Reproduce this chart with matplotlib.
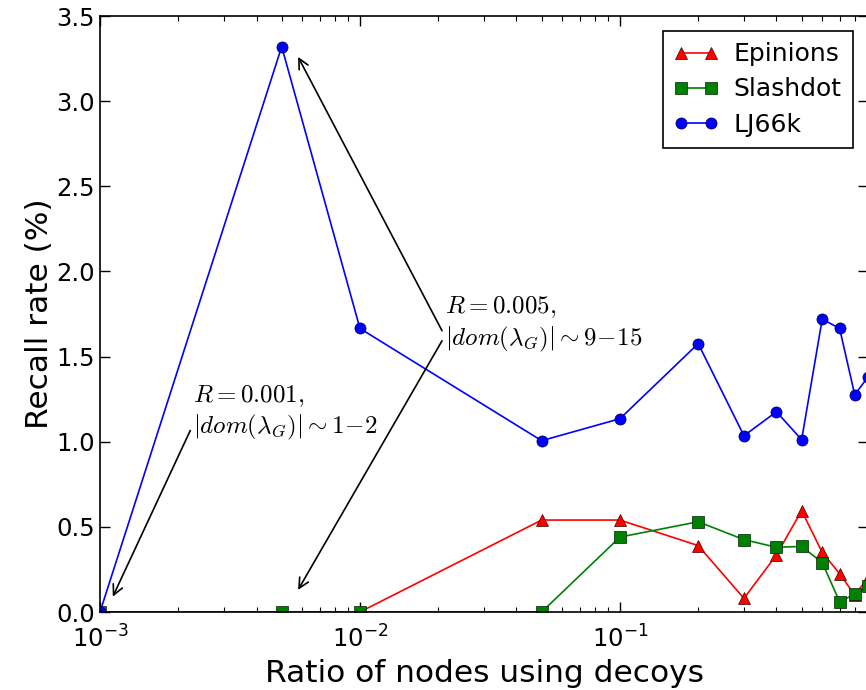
import matplotlib
matplotlib.use("Agg")
import matplotlib.pyplot as plt

ratios = [0.001, 0.005, 0.01, 0.05, 0.1, 0.2, 0.3, 0.4, 0.5, 0.6, 0.7, 0.8, 0.9]
epinions = [0.0, 0.0, 0.0, 0.54, 0.54, 0.39, 0.08, 0.335, 0.595, 0.35, 0.225, 0.10, 0.20]
slashdot = [0.0, 0.0, 0.0, 0.0, 0.44, 0.53, 0.425, 0.38, 0.385, 0.29, 0.06, 0.105, 0.15]
lj66k = [0.0, 3.32, 1.665, 1.006, 1.135, 1.576, 1.035, 1.176, 1.012, 1.72, 1.665, 1.276, 1.38]

ann1_text = "$R=0.001,$\n$|dom(\\lambda_G)|\\sim1\\!-\\!2$"
ann2_text = "$R=0.005,$\n$|dom(\\lambda_G)|\\sim9\\!-\\!15$"

fig = plt.figure(figsize=(8.66, 6.9), dpi=100)
ax = fig.add_axes([100/866, 78/690, 768/866, 596/690])

ax.plot(ratios, epinions, '-^', color='red', lw=1.2, ms=8, mec='#400000', mew=0.5, label='Epinions')
ax.plot(ratios, slashdot, '-s', color='green', lw=1.2, ms=8, mec='#002000', mew=0.5, label='Slashdot')
ax.plot(ratios, lj66k, '-o', color='blue', lw=1.2, ms=8, mec='#000040', mew=0.5, label='LJ66k')

ax.set_xscale('log')
ax.set_xlim(1e-3, 0.9)
ax.set_ylim(0, 3.5)
ax.set_yticks([0, 0.5, 1.0, 1.5, 2.0, 2.5, 3.0, 3.5])
ax.set_yticklabels(['0.0', '0.5', '1.0', '1.5', '2.0', '2.5', '3.0', '3.5'])
ax.tick_params(which='both', direction='in', top=True, right=True, labelsize=17.5)
ax.tick_params(which='major', length=7, width=1)
ax.tick_params(which='minor', length=3.5, width=0.8)
ax.tick_params(axis='x', pad=10)
for s in ax.spines.values():
    s.set_linewidth(1.2)

ax.set_xlabel('Ratio of nodes using decoys', fontsize=22.5, labelpad=4)
ax.set_ylabel('Recall rate (%)', fontsize=22.5, labelpad=2)

ax.annotate(ann1_text, xy=(0.00112, 0.09), xytext=(0.00228, 1.17),
            fontsize=18, math_fontfamily='cm', va='center', ha='left',
            arrowprops=dict(arrowstyle='->', color='black', lw=1.2, shrinkA=0, shrinkB=0,
                            relpos=(0, 0.3)))
ax.annotate(ann2_text, xy=(0.00578, 3.26), xytext=(0.0212, 1.69),
            fontsize=18, math_fontfamily='cm', va='center', ha='left',
            arrowprops=dict(arrowstyle='->', color='black', lw=1.2, shrinkA=0, shrinkB=0,
                            relpos=(0, 0.3)))
ax.annotate(ann2_text, xy=(0.00578, 0.13), xytext=(0.0212, 1.69),
            fontsize=18, math_fontfamily='cm', va='center', ha='left', alpha=0,
            arrowprops=dict(arrowstyle='->', color='black', lw=1.2, shrinkA=0, shrinkB=0,
                            relpos=(0, 0.3), alpha=1))

leg = ax.legend(loc='upper right', fontsize=18, fancybox=False, framealpha=1,
                edgecolor='black', borderaxespad=0.6, handlelength=1.8,
                numpoints=2, handletextpad=0.6, borderpad=0.45, labelspacing=0.45)
leg.get_frame().set_linewidth(1.2)

fig.savefig('out.png', dpi=100)
